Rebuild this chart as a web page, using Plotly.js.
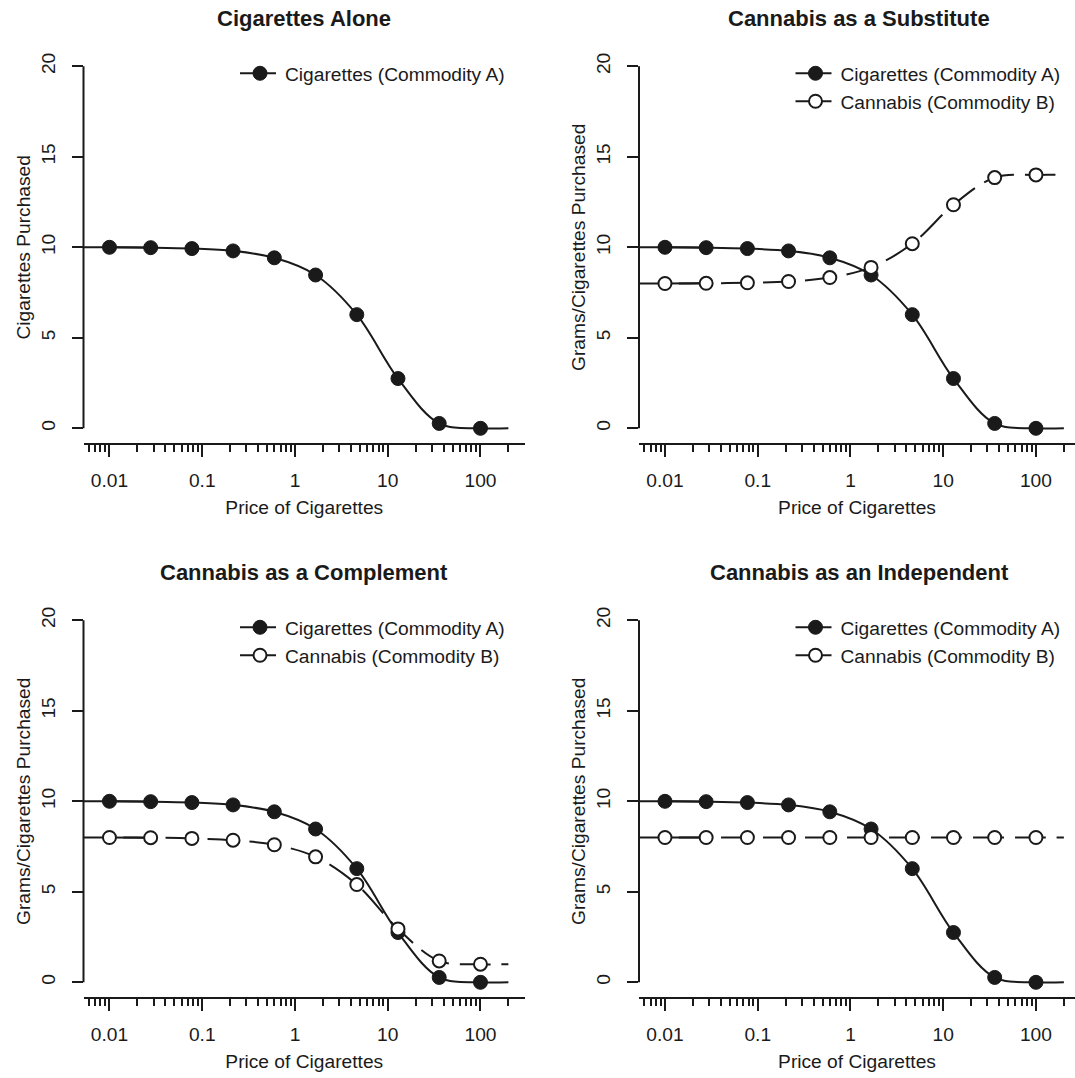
<!DOCTYPE html>
<html>
<head>
<meta charset="utf-8">
<script src="https://cdn.plot.ly/plotly-3.0.1.min.js"></script>
<style>
html,body{margin:0;padding:0;background:#ffffff;}
#chart{width:1075px;height:1078px;}
</style>
</head>
<body>
<div id="chart"></div>
<script>
// ---------------- data ----------------
const price = [0.01, 0.0278, 0.0774, 0.215, 0.599, 1.668, 4.64, 12.9, 35.9, 100];
const cigarettes = [10.0, 9.98, 9.93, 9.80, 9.42, 8.47, 6.28, 2.75, 0.27, 0.0];
const cannabisSubstitute = [8.0, 8.01, 8.04, 8.11, 8.33, 8.89, 10.2, 12.35, 13.85, 14.0];
const cannabisComplement = [8.0, 7.99, 7.95, 7.85, 7.6, 6.93, 5.4, 2.95, 1.18, 1.0];
const cannabisIndependent = [8.0, 8.0, 8.0, 8.0, 8.0, 8.0, 8.0, 8.0, 8.0, 8.0];
// the fitted curves run across the whole price range
const curvePriceEnds = [0.005, 200];
const cigarettesCurveEnds = [10.0, 0.0];
const substituteCurveEnds = [8.0, 14.0];
const complementCurveEnds = [8.0, 1.0];
const independentCurveEnds = [8.0, 8.0];

const panelTitles = ['Cigarettes Alone', 'Cannabis as a Substitute', 'Cannabis as a Complement', 'Cannabis as an Independent'];
const yTitles = ['Cigarettes Purchased', 'Grams/Cigarettes Purchased', 'Grams/Cigarettes Purchased', 'Grams/Cigarettes Purchased'];
const xTitle = 'Price of Cigarettes';
const seriesNames = ['Cigarettes (Commodity A)', 'Cannabis (Commodity B)'];
const xTickVals = [0.01, 0.1, 1, 10, 100];
const xTickText = ['0.01', '0.1', '1', '10', '100'];
const xMinorTickVals = [0.006, 0.007, 0.008, 0.009,
  0.02, 0.03, 0.04, 0.05, 0.06, 0.07, 0.08, 0.09,
  0.2, 0.3, 0.4, 0.5, 0.6, 0.7, 0.8, 0.9,
  2, 3, 4, 5, 6, 7, 8, 9,
  20, 30, 40, 50, 60, 70, 80, 90, 200];
const yTickVals = [0, 5, 10, 15, 20];
const yTickText = ['0', '5', '10', '15', '20'];

// ---------------- styling / layout ----------------
const W = 1075, H = 1078;
const INK = '#1a1a1a';
const FONT = 'Liberation Sans, Arial, Helvetica, sans-serif';
const FS = 19.2;
const px = v => v / W;
const py = v => 1 - v / H;

// panel geometry (pixels): left, right, top, bottom of plotting region
const panels = [
  {l: 83.5, r: 525, t: 51.8, b: 442.8, xr: [-2.28, 2.48]},
  {l: 639, r: 1075, t: 51.8, b: 442.8, xr: [-2.28, 2.421]},
  {l: 83.5, r: 525, t: 605.8, b: 996.8, xr: [-2.28, 2.48]},
  {l: 639, r: 1075, t: 605.8, b: 996.8, xr: [-2.28, 2.421]}
];
const secondSeries = [null, cannabisSubstitute, cannabisComplement, cannabisIndependent];
const secondEnds = [null, substituteCurveEnds, complementCurveEnds, independentCurveEnds];

const curveX = [curvePriceEnds[0]].concat(price, [curvePriceEnds[1]]);

const traces = [];
const layout = {
  width: W, height: H,
  margin: {l: 0, r: 0, t: 0, b: 0},
  paper_bgcolor: '#ffffff', plot_bgcolor: '#ffffff',
  font: {family: FONT, size: FS, color: INK},
  showlegend: true,
  annotations: [],
  shapes: []
};

panels.forEach((p, i) => {
  const n = i === 0 ? '' : String(i + 1);
  const xa = 'x' + n, ya = 'y' + n;
  const legId = 'legend' + n;

  // cigarettes fitted curve
  traces.push({
    x: curveX, y: [cigarettesCurveEnds[0]].concat(cigarettes, [cigarettesCurveEnds[1]]),
    mode: 'lines', xaxis: xa, yaxis: ya, showlegend: false, hoverinfo: 'skip',
    line: {color: INK, width: 2, shape: 'spline', smoothing: 1}
  });
  // cigarettes observed points (the line part only shows as the legend key)
  traces.push({
    x: price, y: cigarettes, name: seriesNames[0], legend: legId,
    mode: 'lines+markers', xaxis: xa, yaxis: ya,
    line: {color: INK, width: 2, shape: 'spline', dash: '36px,100000px'},
    marker: {symbol: 'circle', size: 14, color: INK, line: {color: INK, width: 1}}
  });
  if (secondSeries[i]) {
    traces.push({
      x: curveX, y: [secondEnds[i][0]].concat(secondSeries[i], [secondEnds[i][1]]),
      mode: 'lines', xaxis: xa, yaxis: ya, showlegend: false, hoverinfo: 'skip',
      line: {color: INK, width: 2, shape: 'spline', smoothing: 1, dash: '31px,11px'}
    });
    traces.push({
      x: price, y: secondSeries[i], name: seriesNames[1], legend: legId,
      mode: 'lines+markers', xaxis: xa, yaxis: ya,
      line: {color: INK, width: 2, shape: 'spline', dash: '36px,100000px'},
      marker: {symbol: 'circle', size: 13, color: '#ffffff', line: {color: INK, width: 2}}
    });
  }

  layout['xaxis' + n] = {
    type: 'log', domain: [px(p.l), px(p.r)], range: p.xr, anchor: ya,
    tickmode: 'array', tickvals: xTickVals, ticktext: xTickText,
    ticks: 'outside', ticklen: 12, tickwidth: 2, tickcolor: INK, ticklabelstandoff: 7,
    minor: {tickmode: 'array', tickvals: xMinorTickVals, ticks: 'outside', ticklen: 7, tickwidth: 2, tickcolor: INK, showgrid: false},
    showline: true, linecolor: INK, linewidth: 2,
    showgrid: false, zeroline: false, automargin: false, fixedrange: true,
    tickfont: {family: FONT, size: FS, color: INK},
    title: {text: xTitle, font: {family: FONT, size: FS, color: INK}, standoff: 11}
  };
  layout['yaxis' + n] = {
    domain: [py(p.b), py(p.t)], range: [-0.8, 20.8], anchor: xa,
    tickmode: 'array', tickvals: yTickVals, ticktext: yTickText, tickangle: -90,
    ticks: 'outside', ticklen: 11, tickwidth: 2, tickcolor: INK, ticklabelstandoff: 9,
    showline: false, showgrid: false, zeroline: false, automargin: false, fixedrange: true,
    tickfont: {family: FONT, size: FS, color: INK},
    title: {text: yTitles[i], font: {family: FONT, size: FS, color: INK}, standoff: 2}
  };
  // y axis line spans only the labelled range (0-20)
  layout.shapes.push({
    type: 'line', xref: xa + ' domain', yref: ya, x0: 0, x1: 0, y0: 0, y1: 20,
    line: {color: INK, width: 2}, layer: 'above'
  });
  layout.annotations.push({
    text: '<b>' + panelTitles[i] + '</b>', xref: 'paper', yref: 'paper',
    x: px(p.l + 220.5), y: py(p.t - 33), xanchor: 'center', yanchor: 'middle',
    showarrow: false, font: {family: FONT, size: 22, color: INK}
  });
  layout[legId] = {
    x: px(p.l + 151.5), y: py(p.t + 2.5), xanchor: 'left', yanchor: 'top',
    bgcolor: 'rgba(0,0,0,0)', borderwidth: 0, itemwidth: 40, tracegroupgap: 0,
    font: {family: FONT, size: FS, color: INK}
  };
});

Plotly.newPlot('chart', traces, layout, {displayModeBar: false, staticPlot: true});
</script>
</body>
</html>
